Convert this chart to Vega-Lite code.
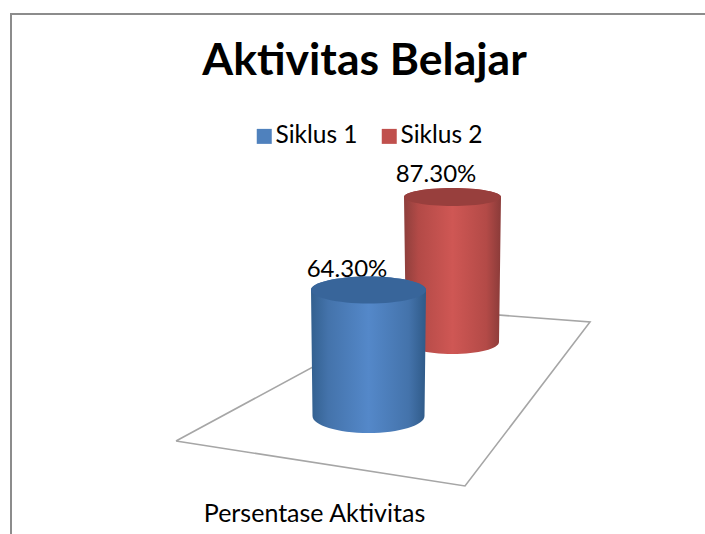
{
"$schema":"https://vega.github.io/schema/vega-lite/v6.json",
"width":705,"height":534,"padding":0,"autosize":{"type":"none"},
"background":"white",
"config":{"view":{"stroke":null},"font":"Lato"},
"title":{"text":"Aktivitas Belajar","font":"Lato","fontSize":44.5,"fontWeight":"bold","color":"#000","anchor":"middle","dx":12,"offset":-84,"orient":"top"},
"datasets":{
"bars":[{"series":"Siklus 1","value":0.643},{"series":"Siklus 2","value":0.873}],
"floor":[{"fx":176,"fy":441,"o":0},{"fx":465,"fy":486,"o":1},{"fx":590,"fy":322,"o":2},{"fx":420,"fy":309,"o":3},{"fx":176,"fy":441,"o":4}],
"frame":[{"fx":705,"fy":14,"o":0},{"fx":11,"fy":14,"o":1},{"fx":11,"fy":534,"o":2}]
},
"data":{"name":"bars"},
"resolve":{"scale":{"x":"independent","y":"independent","color":"independent"},"axis":{"x":"independent","y":"independent"}},
"layer":[
{"data":{"name":"floor"},"mark":{"type":"line","color":"#a6a6a6","strokeWidth":1.6},
 "encoding":{"x":{"field":"fx","type":"quantitative","scale":{"domain":[0,705]},"axis":null},
 "y":{"field":"fy","type":"quantitative","scale":{"domain":[534,0]},"axis":null},"order":{"field":"o","type":"ordinal"}}},
{"data":{"name":"frame"},"mark":{"type":"line","color":"#8c8c8c","strokeWidth":2},
 "encoding":{"x":{"field":"fx","type":"quantitative","scale":{"domain":[0,705]},"axis":null},
 "y":{"field":"fy","type":"quantitative","scale":{"domain":[534,0]},"axis":null},"order":{"field":"o","type":"ordinal"}}},
{"mark":{"type":"text","font":"Lato","fontSize":24,"color":"#000","baseline":"alphabetic","align":"center"},
 "encoding":{"x":{"field":"series","type":"nominal","scale":{"type":"point","padding":0,"range":[347,436]},
   "axis":{"title":"Persentase Aktivitas","orient":"bottom","domain":false,"ticks":false,"labels":false,"grid":false,"titleFont":"Lato","titleFontSize":25,"titleFontWeight":"normal","titleColor":"#000","titleX":314,"titleY":-33}},
 "y":{"field":"value","type":"quantitative","scale":{"domain":[0.643,0.873],"range":[277,182]},"axis":null},
 "text":{"field":"value","type":"quantitative","format":".2%"}}},
{"mark":{"type":"point","filled":true,"size":1,"opacity":1,"shape":"circle"},
 "encoding":{"x":{"field":"series","type":"nominal","scale":{"type":"point","padding":0,"range":[368.5,452.5]},"axis":null},
 "y":{"field":"value","type":"quantitative","scale":{"domain":[0.643,0.873],"range":[300,210]},"axis":null},
 "color":{"field":"series","type":"nominal","scale":{"domain":["Siklus 1","Siklus 2"],"range":["#4F81BD","#C0504D"]},
  "legend":{"title":null,"orient":"none","legendX":252,"legendY":124,"direction":"horizontal","symbolType":"square","symbolSize":225,"symbolStrokeWidth":0,"symbolOpacity":1,"labelFont":"Lato","labelFontSize":24.5,"labelColor":"#000","columnPadding":19,"labelOffset":-1,"rowPadding":0,"symbolLimit":2}}}},
{"transform":[{"filter":"datum.series==='Siklus 2'"}],
 "mark":{"type":"point","filled":true,"opacity":1,"size":4,"strokeWidth":0,
  "shape":"M-48.5,0 A48.5,9 0 0 1 48.5,0 L46.5,145 A46.5,12 0 0 1 -46.5,145 Z",
  "fill":{"gradient":"linear","x1":0,"x2":1,"y1":0,"y2":0,"stops":[{"offset":0,"color":"#8e3f3c"},{"offset":0.15,"color":"#b34a47"},{"offset":0.5,"color":"#cf5754"},{"offset":0.85,"color":"#b34a47"},{"offset":1,"color":"#8a3b39"}]}},
 "encoding":{"x":{"field":"series","type":"nominal","scale":{"type":"point","padding":0,"domain":["Siklus 1","Siklus 2"],"range":[368.5,452.5]},"axis":null},
 "y":{"field":"value","type":"quantitative","scale":{"domain":[0.643,0.873],"range":[290,197]},"axis":null}}},
{"transform":[{"filter":"datum.series==='Siklus 2'"}],
 "mark":{"type":"point","filled":true,"opacity":1,"size":4,"strokeWidth":0,"fill":"#983f3d",
  "shape":"M-48.5,0 A48.5,9 0 0 1 48.5,0 A48.5,9 0 0 1 -48.5,0 Z"},
 "encoding":{"x":{"field":"series","type":"nominal","scale":{"type":"point","padding":0,"domain":["Siklus 1","Siklus 2"],"range":[368.5,452.5]},"axis":null},
 "y":{"field":"value","type":"quantitative","scale":{"domain":[0.643,0.873],"range":[290,197]},"axis":null}}},
{"transform":[{"filter":"datum.series==='Siklus 1'"}],
 "mark":{"type":"point","filled":true,"opacity":1,"size":4,"strokeWidth":0,
  "shape":"M-57.5,0 A57.5,13.5 0 0 1 57.5,0 L56,126 A56,17 0 0 1 -56,126 Z",
  "fill":{"gradient":"linear","x1":0,"x2":1,"y1":0,"y2":0,"stops":[{"offset":0,"color":"#33608f"},{"offset":0.15,"color":"#4473ab"},{"offset":0.5,"color":"#5488c9"},{"offset":0.85,"color":"#4473ab"},{"offset":1,"color":"#2f5a88"}]}},
 "encoding":{"x":{"field":"series","type":"nominal","scale":{"type":"point","padding":0,"domain":["Siklus 1","Siklus 2"],"range":[368.5,452.5]},"axis":null},
 "y":{"field":"value","type":"quantitative","scale":{"domain":[0.643,0.873],"range":[290,197]},"axis":null}}},
{"transform":[{"filter":"datum.series==='Siklus 1'"}],
 "mark":{"type":"point","filled":true,"opacity":1,"size":4,"strokeWidth":0,"fill":"#38659a",
  "shape":"M-57.5,0 A57.5,13.5 0 0 1 57.5,0 A57.5,13.5 0 0 1 -57.5,0 Z"},
 "encoding":{"x":{"field":"series","type":"nominal","scale":{"type":"point","padding":0,"domain":["Siklus 1","Siklus 2"],"range":[368.5,452.5]},"axis":null},
 "y":{"field":"value","type":"quantitative","scale":{"domain":[0.643,0.873],"range":[290,197]},"axis":null}}}
]
}
